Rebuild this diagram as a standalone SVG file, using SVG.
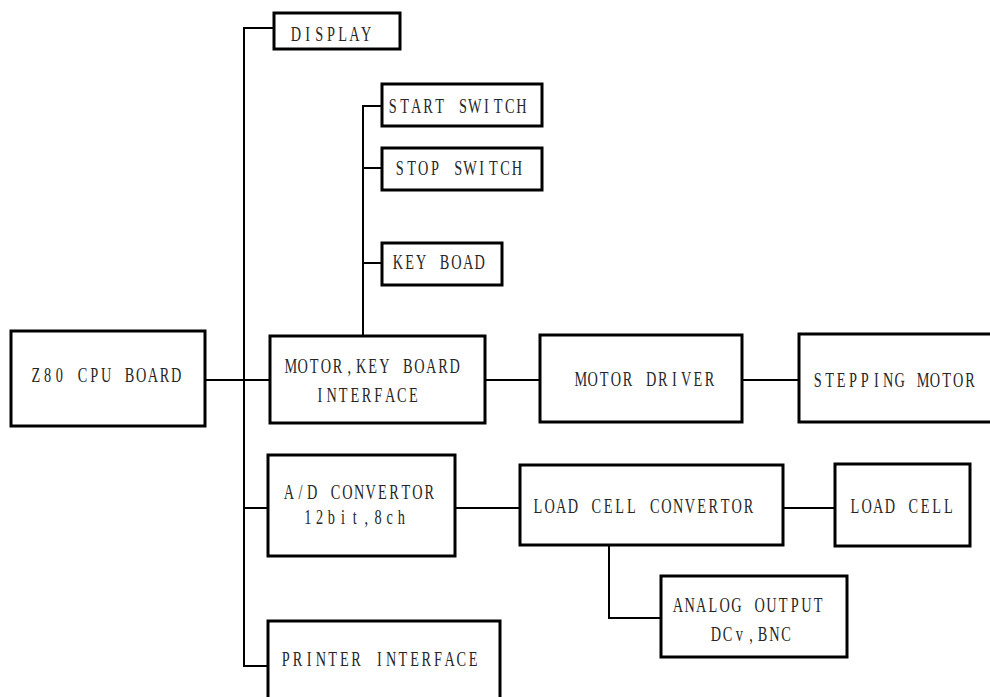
<svg xmlns="http://www.w3.org/2000/svg" width="990" height="697" viewBox="0 0 990 697">
  <style>
    .box { fill: #ffffff; stroke: #000000; stroke-width: 3; }
    .wire { fill: none; stroke: #000000; stroke-width: 2; }
    /* fixed-pitch serif labels: each glyph centred in an 18-unit cell, squeezed by 0.65 (11.7px pitch) */
    text { font-family: "Liberation Serif", "DejaVu Serif", serif; font-size: 22px; fill: #262626; text-anchor: middle; }
  </style>
  <rect width="990" height="697" fill="#ffffff"/>

  <!-- connectors -->
  <g id="connectors" class="wire">
    <!-- main bus -->
    <polyline points="274,28 244,28 244,666 268,666"/>
    <line x1="205" y1="380" x2="270" y2="380"/>
    <line x1="244" y1="508" x2="268" y2="508"/>
    <!-- switch bus -->
    <polyline points="382,106 363,106 363,336"/>
    <line x1="363" y1="168" x2="382" y2="168"/>
    <line x1="363" y1="263" x2="382" y2="263"/>
    <!-- motor chain -->
    <line x1="485" y1="380" x2="540" y2="380"/>
    <line x1="742" y1="380" x2="799" y2="380"/>
    <!-- load cell chain -->
    <line x1="455" y1="508" x2="520" y2="508"/>
    <line x1="783" y1="508" x2="835" y2="508"/>
    <polyline points="609,545 609,618 661,618"/>
  </g>

  <g id="display">
    <rect class="box" x="274" y="13" width="126" height="36"/>
    <text transform="translate(290,41) scale(0.65,1)" x="9 27 45 63 81 99 117">DISPLAY</text>
  </g>
  <g id="start-switch">
    <rect class="box" x="382" y="84" width="160" height="42"/>
    <text transform="translate(387,113) scale(0.65,1)" x="9 27 45 63 81 99 117 135 153 171 189 207">START SWITCH</text>
  </g>
  <g id="stop-switch">
    <rect class="box" x="382" y="148" width="160" height="42"/>
    <text transform="translate(394,175) scale(0.65,1)" x="9 27 45 63 81 99 117 135 153 171 189">STOP SWITCH</text>
  </g>
  <g id="key-board">
    <rect class="box" x="382" y="243" width="120" height="42"/>
    <text transform="translate(392,269) scale(0.65,1)" x="9 27 45 63 81 99 117 135">KEY BOAD</text>
  </g>
  <g id="cpu-board">
    <rect class="box" x="11" y="331" width="194" height="95"/>
    <text transform="translate(30,382) scale(0.65,1)" x="9 27 45 63 81 99 117 135 153 171 189 207 225">Z80 CPU BOARD</text>
  </g>
  <g id="motor-key-interface">
    <rect class="box" x="270" y="336" width="215" height="87"/>
    <text transform="translate(285,373) scale(0.65,1)" x="9 27 45 63 81 99 117 135 153 171 189 207 225 243 261">MOTOR,KEY BOARD</text>
    <text transform="translate(314,402) scale(0.65,1)" x="9 27 45 63 81 99 117 135 153">INTERFACE</text>
  </g>
  <g id="motor-driver">
    <rect class="box" x="540" y="335" width="202" height="87"/>
    <text transform="translate(575,386) scale(0.65,1)" x="9 27 45 63 81 99 117 135 153 171 189 207">MOTOR DRIVER</text>
  </g>
  <g id="stepping-motor">
    <rect class="box" x="799" y="334" width="220" height="88"/>
    <text transform="translate(812,387) scale(0.65,1)" x="9 27 45 63 81 99 117 135 153 171 189 207 225 243">STEPPING MOTOR</text>
  </g>
  <g id="ad-convertor">
    <rect class="box" x="268" y="455" width="187" height="101"/>
    <text transform="translate(283,499) scale(0.65,1)" x="9 27 45 63 81 99 117 135 153 171 189 207 225">A/D CONVERTOR</text>
    <text transform="translate(302,524) scale(0.65,1)" x="9 27 45 63 81 99 117 135 153">12bit,8ch</text>
  </g>
  <g id="load-cell-convertor">
    <rect class="box" x="520" y="465" width="263" height="80"/>
    <text transform="translate(532,513) scale(0.65,1)" x="9 27 45 63 81 99 117 135 153 171 189 207 225 243 261 279 297 315 333">LOAD CELL CONVERTOR</text>
  </g>
  <g id="load-cell">
    <rect class="box" x="835" y="464" width="135" height="82"/>
    <text transform="translate(849,513) scale(0.65,1)" x="9 27 45 63 81 99 117 135 153">LOAD CELL</text>
  </g>
  <g id="analog-output">
    <rect class="box" x="661" y="576" width="186" height="81"/>
    <text transform="translate(672,612) scale(0.65,1)" x="9 27 45 63 81 99 117 135 153 171 189 207 225">ANALOG OUTPUT</text>
    <text transform="translate(710,641) scale(0.65,1)" x="9 27 45 63 81 99 117">DCv,BNC</text>
  </g>
  <g id="printer-interface">
    <rect class="box" x="268" y="621" width="232" height="100"/>
    <text transform="translate(280,666) scale(0.65,1)" x="9 27 45 63 81 99 117 135 153 171 189 207 225 243 261 279 297">PRINTER INTERFACE</text>
  </g>
</svg>
